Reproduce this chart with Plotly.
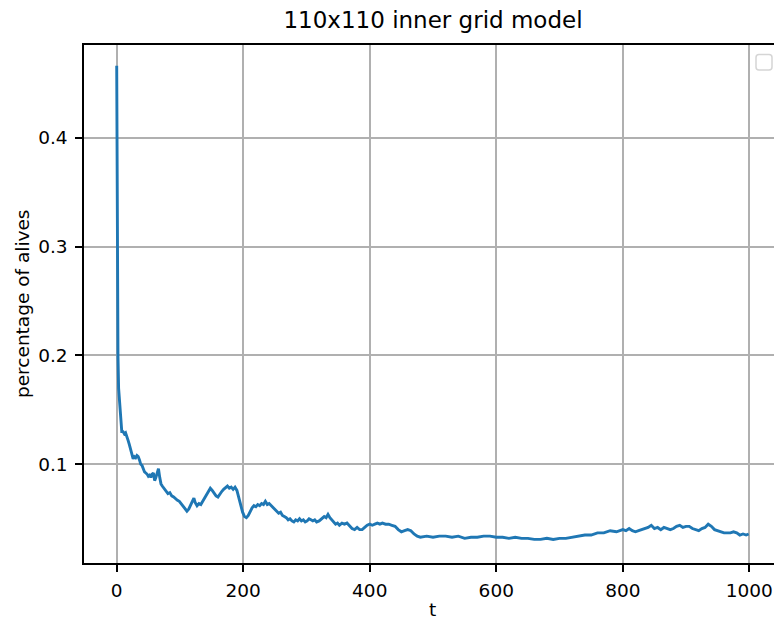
import plotly.graph_objects as go

# ---- data ----
t = [0, 1, 2, 3, 4, 5, 6, 7, 8, 10, 12, 14, 16, 18, 20, 22, 24, 26, 28, 30,
     32, 34, 36, 38, 40, 42, 44, 46, 48, 50, 52, 54, 56, 58, 60, 62, 64, 66, 68, 70,
     72, 75, 78, 81, 84, 87, 90, 93, 96, 99, 102, 105, 108, 111, 114, 117, 120, 122, 124, 127,
     130, 133, 136, 139, 142, 145, 148, 151, 154, 157, 160, 163, 166, 169, 172, 175, 178, 181, 184, 187,
     190, 193, 196, 199, 202, 205, 208, 211, 214, 217, 220, 223, 226, 229, 232, 235, 238, 241, 244, 247,
     250, 253, 256, 259, 262, 265, 268, 271, 274, 277, 280, 283, 286, 289, 292, 295, 298, 301, 304, 307,
     310, 313, 316, 320, 324, 328, 331, 334, 337, 340, 343, 346, 349, 352, 356, 360, 364, 368, 372, 376,
     380, 384, 388, 392, 396, 400, 404, 408, 412, 416, 420, 425, 430, 435, 440, 445, 450, 455, 460, 465,
     470, 475, 480, 490, 500, 510, 520, 530, 540, 550, 560, 570, 580, 590, 600, 610, 620, 630, 640, 650,
     660, 670, 680, 690, 700, 710, 720, 730, 740, 750, 760, 770, 780, 790, 800, 805, 810, 815, 820, 825,
     830, 835, 840, 845, 850, 855, 860, 865, 870, 875, 880, 885, 890, 895, 900, 905, 910, 915, 920, 925,
     930, 935, 940, 945, 950, 955, 960, 965, 970, 975, 980, 985, 990, 995, 999]

alive = [0.466, 0.300, 0.200, 0.170, 0.160, 0.155, 0.148, 0.135, 0.130, 0.130, 0.128, 0.129, 0.126, 0.122, 0.118, 0.114, 0.110, 0.105, 0.107, 0.106,
         0.108, 0.107, 0.104, 0.100, 0.099, 0.096, 0.093, 0.092, 0.091, 0.089, 0.090, 0.088, 0.091, 0.092, 0.085, 0.088, 0.093, 0.096, 0.088, 0.082,
         0.080, 0.078, 0.076, 0.073, 0.074, 0.071, 0.070, 0.068, 0.067, 0.066, 0.064, 0.062, 0.059, 0.057, 0.059, 0.063, 0.067, 0.069, 0.065, 0.062,
         0.064, 0.063, 0.066, 0.069, 0.073, 0.076, 0.078, 0.076, 0.073, 0.071, 0.070, 0.073, 0.075, 0.077, 0.079, 0.080, 0.078, 0.079, 0.077, 0.079,
         0.076, 0.069, 0.063, 0.056, 0.052, 0.051, 0.053, 0.057, 0.060, 0.062, 0.061, 0.063, 0.062, 0.064, 0.063, 0.066, 0.063, 0.064, 0.062, 0.061,
         0.059, 0.057, 0.055, 0.056, 0.053, 0.052, 0.051, 0.049, 0.050, 0.048, 0.047, 0.049, 0.048, 0.050, 0.048, 0.049, 0.047, 0.048, 0.050, 0.049,
         0.048, 0.049, 0.047, 0.048, 0.050, 0.052, 0.051, 0.054, 0.051, 0.049, 0.047, 0.045, 0.046, 0.044, 0.046, 0.045, 0.046, 0.043, 0.041, 0.040,
         0.042, 0.040, 0.040, 0.042, 0.044, 0.045, 0.044, 0.045, 0.046, 0.045, 0.046, 0.045, 0.045, 0.044, 0.043, 0.040, 0.038, 0.039, 0.040, 0.039,
         0.036, 0.034, 0.033, 0.034, 0.033, 0.034, 0.034, 0.033, 0.034, 0.032, 0.033, 0.033, 0.034, 0.034, 0.033, 0.033, 0.032, 0.033, 0.032, 0.032,
         0.031, 0.031, 0.032, 0.031, 0.032, 0.032, 0.033, 0.034, 0.035, 0.035, 0.037, 0.037, 0.039, 0.038, 0.040, 0.039, 0.041, 0.039, 0.038, 0.039,
         0.040, 0.041, 0.042, 0.044, 0.041, 0.042, 0.040, 0.042, 0.041, 0.040, 0.041, 0.043, 0.044, 0.042, 0.043, 0.043, 0.041, 0.040, 0.039, 0.041,
         0.042, 0.045, 0.043, 0.040, 0.039, 0.038, 0.037, 0.037, 0.037, 0.038, 0.037, 0.035, 0.036, 0.035, 0.036]

x_ticks = [0, 200, 400, 600, 800, 1000]
y_ticks = [0.1, 0.2, 0.3, 0.4]
y_tick_text = ["0.1", "0.2", "0.3", "0.4"]

title_text = "110x110 inner grid model"
x_label = "t"
y_label = "percentage of alives"

# ---- layout geometry (pixels) ----
W, H = 774, 621
L, R, T, B = 84, 0, 45, 58
pw, ph = W - L - R, H - T - B

def px_x(p):
    return (p - L) / pw

def px_y(p):
    return (H - B - p) / ph

FONT = "DejaVu Sans"

fig = go.Figure()
fig.add_trace(go.Scatter(x=t, y=alive, mode="lines",
                         line=dict(color="#1f77b4", width=2.9),
                         showlegend=False, hoverinfo="skip"))

axis_common = dict(
    showgrid=True, gridcolor="#b0b0b0", gridwidth=1.5,
    showline=True, linecolor="black", linewidth=1.5,
    ticks="outside", ticklen=7, tickwidth=1.5, tickcolor="black",
    tickfont=dict(family=FONT, size=18.5, color="black"),
    zeroline=False,
)

fig.update_xaxes(range=[-51.7, 1039.0], tickvals=x_ticks, mirror=True,
                 ticklabelstandoff=3, **axis_common)
fig.update_yaxes(range=[0.00934, 0.48514], tickvals=y_ticks, ticktext=y_tick_text,
                 mirror=False, ticklabelstandoff=4, **axis_common)

fig.update_layout(
    width=W, height=H,
    margin=dict(l=L, r=R, t=T, b=B, pad=0),
    paper_bgcolor="white", plot_bgcolor="white",
    font=dict(family=FONT, color="black"),
    title=dict(text=title_text, font=dict(family=FONT, size=23, color="black"),
               x=433 / W, xanchor="center", xref="container",
               y=1 - 20 / H, yanchor="middle", yref="container"),
    annotations=[
        dict(text=x_label, xref="paper", yref="paper", x=px_x(432), y=px_y(609),
             xanchor="center", yanchor="middle", showarrow=False,
             font=dict(family=FONT, size=18.5, color="black")),
        dict(text=y_label, xref="paper", yref="paper", x=px_x(22), y=0.5,
             xanchor="center", yanchor="middle", showarrow=False, textangle=-90,
             font=dict(family=FONT, size=18.5, color="black")),
    ],
)

# empty legend frame (upper right, as in the reference)
x0, x1 = px_x(756), px_x(772)
y0, y1 = px_y(70), px_y(54.5)
rx, ry = 3 / pw, 3 / ph
path = (f"M {x0+rx},{y1} L {x1-rx},{y1} Q {x1},{y1} {x1},{y1-ry} "
        f"L {x1},{y0+ry} Q {x1},{y0} {x1-rx},{y0} L {x0+rx},{y0} "
        f"Q {x0},{y0} {x0},{y0+ry} L {x0},{y1-ry} Q {x0},{y1} {x0+rx},{y1} Z")
fig.add_shape(type="path", path=path, xref="paper", yref="paper",
              line=dict(color="#d5d5d5", width=1.5), fillcolor="rgba(255,255,255,0.8)")

fig.write_html("out.html")
